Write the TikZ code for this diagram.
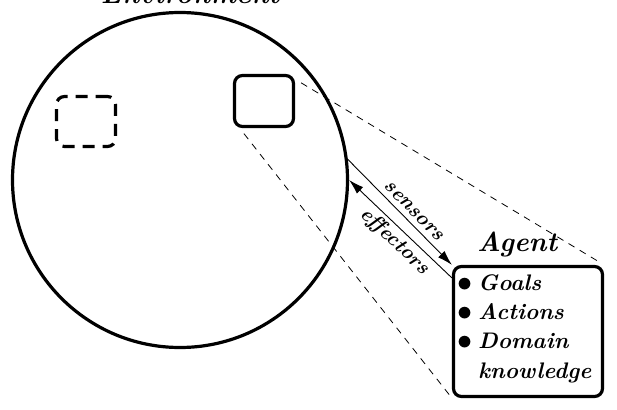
\documentclass[tikz,border=0pt]{standalone}
\usepackage{tikz}
\usetikzlibrary{arrows.meta}
\tikzset{
	rb/.style={draw, rounded corners=8pt, line width=3.2pt, inner sep=0pt},
	dl/.style={line width=0.8pt, dash pattern=on 7pt off 6pt, shorten <=7pt, shorten >=3pt},
	ar/.style={line width=0.9pt, >={Latex[length=15pt,width=9pt]}},
	big/.style={font=\fontsize{27.5}{32}\selectfont\bfseries\itshape, inner sep=0pt},
	it/.style={font=\fontsize{22.5}{26}\selectfont\bfseries\itshape, inner sep=0pt},
	dot/.style={font=\fontsize{40}{44}\selectfont\bfseries, inner sep=0pt},
	sm/.style={font=\fontsize{20.5}{24}\selectfont\bfseries\itshape, inner sep=3.5pt},
}

\begin{document}
\begin{tikzpicture}[x=1pt, y=-1pt]
	\useasboundingbox (0,0) rectangle (617,409);

	\node [circle, draw, line width=3.2pt, minimum size=335pt, inner sep=0pt] (env) at (180,180) {};
	\node [big, anchor=base] (envlbl) at (190,4) {Environment};

	\node [rb, dash pattern=on 12pt off 8pt, minimum width=59pt, minimum height=50pt] (ghost) at (86,121.5) {};
	\node [rb, minimum width=59pt, minimum height=51pt] (sbox) at (264,101) {};
	\node [rb, minimum width=149pt, minimum height=130pt] (agent) at (528,331.5) {};

	\node [big, anchor=base west] (agentlbl) at (477,251) {Agent};
	\node [dot] (b1) at (465,286) {\textbullet};
	\node [dot] (b2) at (465,315) {\textbullet};
	\node [dot] (b3) at (465,344) {\textbullet};
	\node [it, anchor=base west] (goals) at (478,290) {Goals};
	\node [it, anchor=base west] (acts) at (478,319) {Actions};
	\node [it, anchor=base west] (dom) at (478,348) {Domain};
	\node [it, anchor=base west] (know) at (478,378) {knowledge};

	\draw [ar, ->] (env.7) -- (agent.north west)
		node [sm, pos=0.56, sloped, above=2pt] (senslbl) {sensors};
	\draw [ar, <-] (env.east) -- ([yshift=-13pt]agent.north west)
		node [sm, pos=0.53, sloped, below] (efflbl) {effectors};

	\draw [dl] (sbox.35) -- (agent.north east);
	\draw [dl] (sbox.228) -- (agent.south west);
\end{tikzpicture}
\end{document}
